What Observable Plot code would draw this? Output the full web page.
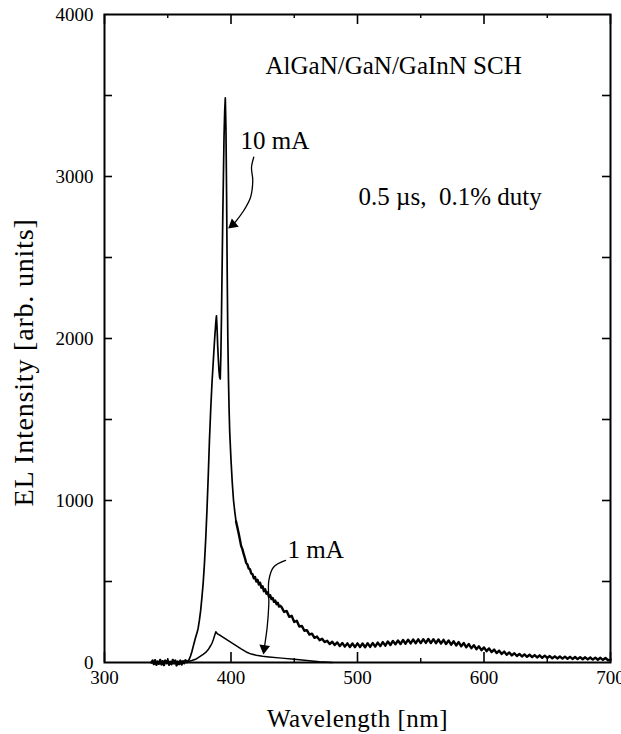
<!DOCTYPE html>
<html><head><meta charset="utf-8">
<script src="https://cdn.jsdelivr.net/npm/d3@7"></script>
<script src="https://cdn.jsdelivr.net/npm/@observablehq/plot@0.6"></script>
<style>body{margin:0;background:#fff}</style>
</head><body><div id="chart"></div>
<script>
// ---- tick values ----
const xMajor = [300, 400, 500, 600, 700];
const xMinor = [350, 450, 550, 650];
const yMajor = [0, 1000, 2000, 3000, 4000];
const yAll = [500, 1000, 1500, 2000, 2500, 3000, 3500];

// ---- 10 mA spectrum (wavelength nm, intensity) ----
const wl10 = [
 337,338,339,340,341,342,343,344,345,346,347,348,349,350,351,352,353,354,355,356,357,358,359,360,361,362,363,364,365,366,
 367,368,369,370,371,372,373,374,375,376,377,378,379,380,381,382,383,384,385,386,387,388,388.5,389,389.5,390,390.5,391,391.5,
 392,392.5,393,393.5,394,394.5,395,395.5,396,396.5,397,397.5,398,398.5,399,400,401,402,
 403,404,405,406,407,408,409,410,411,412,413,414,415,416,417,418,419,420,421,422,423,424,425,426,427,428,429,430,431,432,433,434,435,436,437,438,439,
 440,442,444,446,448,450,452,454,456,458,460,462,464,466,468,470,472,474,476,478,480,482,484,486,488,490,492,494,496,498,
 500,502,504,506,508,510,512,514,516,518,520,522,524,526,528,530,532,534,536,538,540,542,544,546,548,550,552,554,556,558,
 560,562,564,566,568,570,572,574,576,578,580,582,584,586,588,590,592,594,596,598,600,602,604,606,608,610,612,614,616,618,
 620,622,624,626,628,630,632,634,636,638,640,642,644,646,648,650,652,654,656,658,660,662,664,666,668,670,672,674,676,678,
 680,682,684,686,688,690,692,694,696,698,700
];
const int10 = [
 0,12,-10,14,-14,6,-8,16,-12,8,-16,12,-4,14,-14,4,-10,16,-6,12,-18,6,-10,12,-12,8,-4,14,2,8,
 20,40,65,95,125,155,180,210,260,320,400,490,610,760,940,1150,1380,1570,1730,1860,1990,2100,2140,2060,1950,1870,1800,1760,1750,
 1900,2150,2450,2750,3000,3250,3400,3485,3300,2900,2400,2000,1750,1560,1420,1250,1110,1000,
 930,870,835,800,760,720,700,670,645,615,605,580,575,550,545,520,528,500,510,482,492,462,470,440,452,425,433,405,415,392,398,375,382,360,368,345,350,
 342,312,318,282,288,250,258,222,226,196,200,172,178,152,160,138,146,126,134,114,128,108,124,102,120,98,118,96,117,95,
 118,96,117,94,119,96,120,98,123,101,126,104,130,108,133,112,136,114,139,116,141,118,142,119,143,120,144,121,145,120,
 144,119,142,117,140,114,136,110,131,105,126,100,120,94,114,88,107,82,100,76,93,70,87,64,80,58,73,53,67,48,
 62,44,57,40,53,37,50,35,48,33,46,31,44,29,42,28,40,26,38,25,37,24,36,23,35,22,34,21,33,20,
 32,19,31,18,30,17,29,16,28,14,18
];

// ---- 1 mA spectrum ----
const wl1 = [363,366,369,372,375,378,380,382,384,385,386,387,388,389,390,392,396,400,404,408,412,416,420,425,430,440,450,460,470,480];
const int1 = [0,5,12,20,35,50,62,80,105,120,140,165,190,180,174,165,145,124,104,84,65,52,45,38,34,27,20,12,4,0];

// ---- annotation arrows (data coords) ----
const arrow10x = [418.0,416.2,417.2,415.4,410.1,404.0,401.5];
const arrow10y = [3119,3056,2975,2870,2790,2725,2703];
const arrow1x = [443.1,433.6,429.9,429.9,428.6,426.3];
const arrow1y = [630,588,506,362,218,88];

const labels = [
  {x: 427.3, y: 3630, text: "AlGaN/GaN/GaInN SCH"},
  {x: 407.5, y: 3167, text: "10 mA"},
  {x: 500.8, y: 2827, text: "0.5 \u00b5s,\u00a0\u00a00.1% duty"},
  {x: 444.7, y: 648, text: "1 mA"}
];

const W = 621, H = 734, mT = 14, mB = 72, mL = 104, mR = 11;
const fW = W - mL - mR, fH = H - mT - mB;

const s10 = wl10.map((x, i) => ({x, y: int10[i]}));
const s1 = wl1.map((x, i) => ({x, y: int1[i]}));
const a10 = arrow10x.map((x, i) => ({x, y: arrow10y[i]}));
const a1 = arrow1x.map((x, i) => ({x, y: arrow1y[i]}));
const heads = [
  {x: arrow10x[arrow10x.length-1], y: arrow10y[arrow10y.length-1], r: 230},
  {x: arrow1x[arrow1x.length-1], y: arrow1y[arrow1y.length-1], r: 188}
];

const chart = Plot.plot({
  width: W, height: H,
  marginTop: mT, marginBottom: mB, marginLeft: mL, marginRight: mR,
  x: {domain: [300, 700], label: null},
  y: {domain: [0, 4000], label: null},
  style: {fontFamily: "'Liberation Serif', 'Times New Roman', serif", background: "#fff", color: "#000"},
  marks: [
    Plot.axisX(xMajor, {tickSize: 0, tickPadding: 8, fontSize: 19, label: null, tickFormat: d => String(d)}),
    Plot.axisY(yMajor, {tickSize: 0, tickPadding: 11, fontSize: 19, label: null, tickFormat: d => String(d)}),
    Plot.tickX(xMajor, {x: d => d, insetTop: fH - 10, stroke: "#000", strokeWidth: 1.6}),
    Plot.tickX(xMinor, {x: d => d, insetTop: fH - 4, stroke: "#000", strokeWidth: 1.4}),
    Plot.tickX(xMajor, {x: d => d, insetBottom: fH - 10, stroke: "#000", strokeWidth: 1.6}),
    Plot.tickX(xMinor, {x: d => d, insetBottom: fH - 4, stroke: "#000", strokeWidth: 1.4}),
    Plot.tickY(yAll, {y: d => d, insetRight: fW - 8, stroke: "#000", strokeWidth: 1.6}),
    Plot.tickY(yAll, {y: d => d, insetLeft: fW - 8, stroke: "#000", strokeWidth: 1.6}),
    Plot.frame({stroke: "#000", strokeWidth: 2}),
    Plot.line(s1, {x: "x", y: "y", stroke: "#000", strokeWidth: 1.5}),
    Plot.line(s10, {filter: d => d.x <= 366, x: "x", y: "y", stroke: "#000", strokeWidth: 2.4}),
    Plot.line(s10, {filter: d => d.x >= 366 && d.x <= 404, x: "x", y: "y", stroke: "#000", strokeWidth: 1.7}),
    Plot.line(s10, {filter: d => d.x >= 404, x: "x", y: "y", stroke: "#000", strokeWidth: 2.4}),
    Plot.line(a10, {x: "x", y: "y", stroke: "#000", strokeWidth: 1.3, curve: "catmull-rom"}),
    Plot.line(a1, {x: "x", y: "y", stroke: "#000", strokeWidth: 1.3, curve: "catmull-rom"}),
    Plot.dot(heads, {x: "x", y: "y", rotate: "r", symbol: "triangle", r: 4, fill: "#000", stroke: "none"}),
    Plot.text(labels, {x: "x", y: "y", text: "text", textAnchor: "start", lineAnchor: "bottom", fontSize: 25, fill: "#000"}),
    Plot.text(["Wavelength [nm]"], {frameAnchor: "bottom", dy: 64, lineAnchor: "bottom", fontSize: 25, fill: "#000", style: "letter-spacing:0.5px"}),
    Plot.text(["EL Intensity [arb. units]"], {frameAnchor: "left", dx: -72, dy: 24, rotate: -90, lineAnchor: "bottom", textAnchor: "middle", fontSize: 28, fill: "#000"})
  ]
});
chart.querySelectorAll("text").forEach(t => {
  if (t.textContent === "EL Intensity [arb. units]") t.setAttribute("letter-spacing", "0.8");
  if (t.textContent === "Wavelength [nm]") t.setAttribute("letter-spacing", "0.5");
});
document.getElementById("chart").appendChild(chart);
</script></body></html>
